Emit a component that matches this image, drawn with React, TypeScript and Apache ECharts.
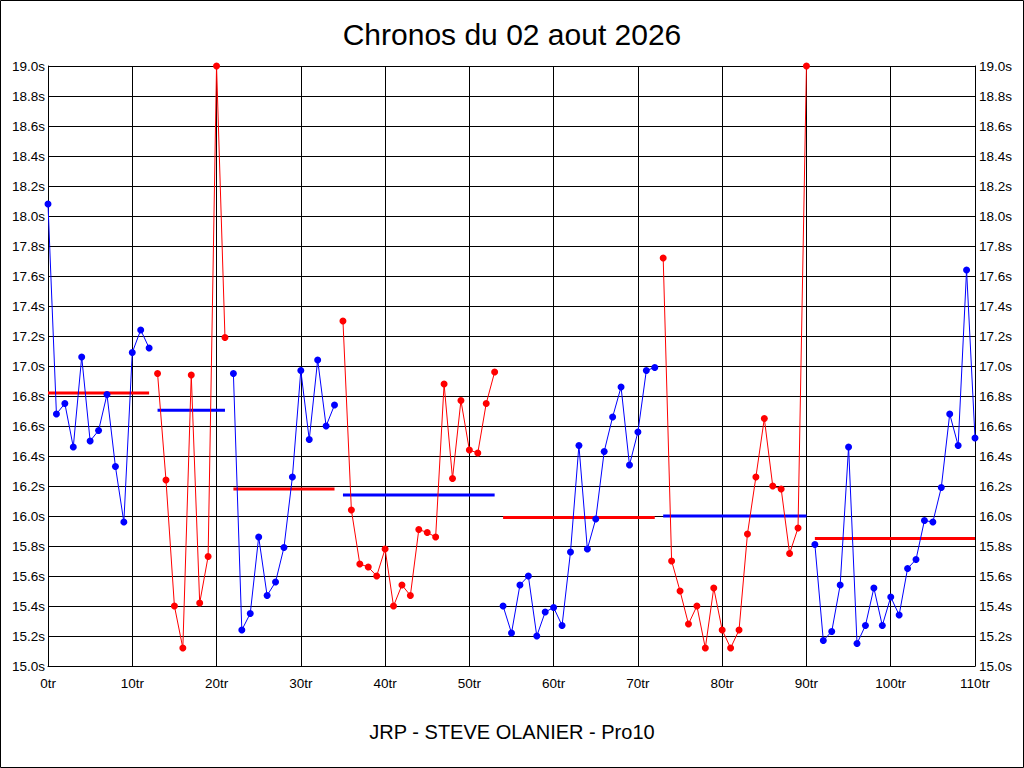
import React, { useEffect, useRef } from "react";
import * as echarts from "echarts";

// Lap times per segment (x = lap index "tr", y = seconds)
const segStarts = [0, 13, 22, 35, 54, 73, 91];
const seg1 = [18.08, 16.68, 16.75, 16.46, 17.06, 16.5, 16.57, 16.81, 16.33, 15.96, 17.09, 17.24, 17.12];
const seg2 = [16.95, 16.24, 15.4, 15.12, 16.94, 15.42, 15.73, 19.0, 17.19];
const seg3 = [16.95, 15.24, 15.35, 15.86, 15.47, 15.56, 15.79, 16.26, 16.97, 16.51, 17.04, 16.6, 16.74];
const seg4 = [17.3, 16.04, 15.68, 15.66, 15.6, 15.78, 15.4, 15.54, 15.47, 15.91, 15.89, 15.86, 16.88, 16.25, 16.77, 16.44, 16.42, 16.75, 16.96];
const seg5 = [15.4, 15.22, 15.54, 15.6, 15.2, 15.36, 15.39, 15.27, 15.76, 16.47, 15.78, 15.98, 16.43, 16.66, 16.86, 16.34, 16.56, 16.97, 16.99];
const seg6 = [17.72, 15.7, 15.5, 15.28, 15.4, 15.12, 15.52, 15.24, 15.12, 15.24, 15.88, 16.26, 16.65, 16.2, 16.18, 15.75, 15.92, 19.0];
const seg7 = [15.81, 15.17, 15.23, 15.54, 16.46, 15.15, 15.27, 15.52, 15.27, 15.46, 15.34, 15.65, 15.71, 15.97, 15.96, 16.19, 16.68, 16.47, 17.64, 16.52];
const segAverages = [16.82, 16.705, 16.18, 16.14, 15.99, 16.0, 15.85];

const segments = [seg1, seg2, seg3, seg4, seg5, seg6, seg7];
const BLUE = "#0000FF";
const RED = "#FF0000";
const FONT = "Liberation Sans, Arial, sans-serif";

export default function App() {
  const ref = useRef<HTMLDivElement>(null);
  useEffect(() => {
    document.body.style.margin = "0";
    const chart = echarts.init(ref.current!, null, { renderer: "svg" });

    const avgSeries = segments.map((seg, i) => {
      const x0 = segStarts[i];
      const x1 = x0 + seg.length - 1;
      return {
        type: "line",
        data: [
          [x0, segAverages[i]],
          [x1, segAverages[i]],
        ],
        showSymbol: false,
        symbol: "none",
        lineStyle: { color: i % 2 === 0 ? RED : BLUE, width: 3, cap: "butt" },
        z: 2,
        silent: true,
      };
    });

    const lapSeries = segments.map((seg, i) => {
      const color = i % 2 === 0 ? BLUE : RED;
      return {
        type: "line",
        data: seg.map((v, k) => [segStarts[i] + k, v]),
        symbol: "circle",
        symbolSize: 7,
        showSymbol: true,
        clip: false,
        itemStyle: { color, borderWidth: 0 },
        lineStyle: { color, width: 1 },
        z: 3,
      };
    });

    const yLabel = {
      formatter: (v: number) => v.toFixed(1) + "s",
      color: "#000",
      fontSize: 13.5,
      fontFamily: FONT,
    };

    chart.setOption({
      animation: false,
      backgroundColor: "#fff",
      title: [
        {
          text: "Chronos du 02 aout 2026",
          left: "center",
          top: 19,
          padding: 0,
          textStyle: { fontSize: 30, lineHeight: 30, fontWeight: "normal", color: "#000", fontFamily: FONT },
        },
        {
          text: "JRP - STEVE OLANIER - Pro10",
          left: "center",
          top: 722,
          padding: 0,
          textStyle: { fontSize: 20, lineHeight: 20, fontWeight: "normal", color: "#000", fontFamily: FONT },
        },
      ],
      grid: { left: 48, top: 66, width: 927, height: 600, containLabel: false, outerBoundsMode: "none" },
      xAxis: {
        type: "value",
        min: 0,
        max: 110,
        interval: 10,
        axisLine: { show: true, lineStyle: { color: "#000", width: 1 } },
        axisTick: { show: false },
        splitLine: { show: true, lineStyle: { color: "#000", width: 1 } },
        axisLabel: { formatter: (v: number) => v + "tr", color: "#000", fontSize: 13.5, fontFamily: FONT, margin: 10 },
      },
      yAxis: [
        {
          type: "value",
          position: "left",
          min: 15,
          max: 19,
          interval: 0.2,
          axisLine: { show: true, lineStyle: { color: "#000", width: 1 } },
          axisTick: { show: false },
          splitLine: { show: true, lineStyle: { color: "#000", width: 1 } },
          axisLabel: { ...yLabel, margin: 3 },
        },
        {
          type: "value",
          position: "right",
          min: 15,
          max: 19,
          interval: 0.2,
          axisLine: { show: true, lineStyle: { color: "#000", width: 1 } },
          axisTick: { show: false },
          splitLine: { show: false },
          axisLabel: { ...yLabel, margin: 4 },
        },
      ],
      graphic: [
        {
          type: "rect",
          shape: { x: 0.5, y: 0.5, width: 1023, height: 767 },
          style: { fill: "none", stroke: "#000", lineWidth: 1 },
          silent: true,
          z: 100,
        },
      ],
      series: [...avgSeries, ...lapSeries],
    });
    return () => chart.dispose();
  }, []);
  return <div ref={ref} style={{ width: 1024, height: 768 }} />;
}
